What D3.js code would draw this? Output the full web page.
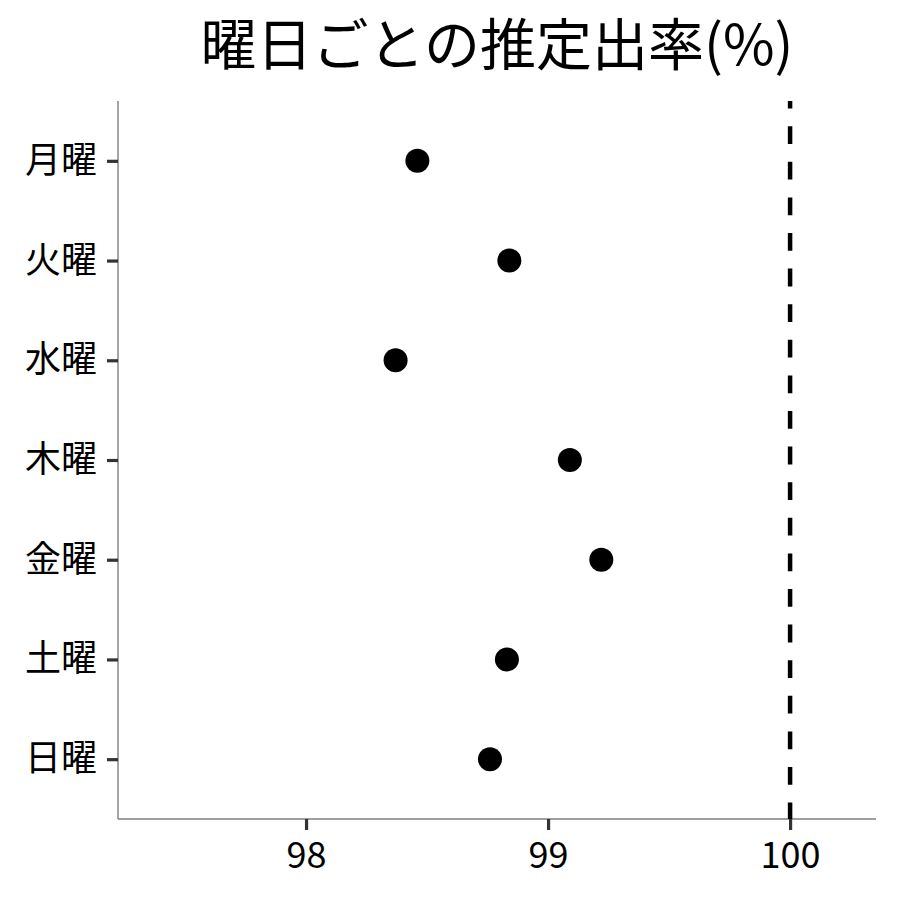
<!DOCTYPE html>
<html><head><meta charset="utf-8">
<script src="https://cdn.jsdelivr.net/npm/d3@7"></script>
<style>body{margin:0;background:#fff}</style>
</head><body>
<script>
const days = ["月曜","火曜","水曜","木曜","金曜","土曜","日曜"];
const rates = [98.46, 98.84, 98.37, 99.09, 99.22, 98.83, 98.76];
const xTicks = [98, 99, 100];
const refValue = 100;
const titleText = "曜日ごとの推定出率(%)";

const W = 900, H = 900;
const m = {left:118, right:24, top:101, bottom:81};
const font = "'Noto Sans CJK JP','Noto Sans',sans-serif";
const svg = d3.select("body").append("svg").attr("width",W).attr("height",H);

const x = d3.scaleLinear().domain([97.223, 100.355]).range([m.left, W-m.right]);
const y = d3.scalePoint().domain(days).range([m.top, H-m.bottom]).padding(0.6);

svg.append("text").attr("x",(m.left+W-m.right)/2).attr("y",65)
  .attr("text-anchor","middle").attr("font-family",font).attr("font-size",56)
  .attr("fill","#000").text(titleText);

// y axis
const ya = svg.append("g").attr("transform",`translate(${m.left},0)`)
  .call(d3.axisLeft(y).tickSize(11).tickPadding(10));
ya.select(".domain").attr("stroke","#7f7f7f").attr("stroke-width",1.4).attr("d",`M0,${m.top}V${H-m.bottom}`);
ya.selectAll(".tick line").attr("stroke","#333").attr("stroke-width",3.2);
ya.selectAll(".tick text").attr("font-family",font).attr("font-size",36).attr("fill","#000");

// x axis
const xa = svg.append("g").attr("transform",`translate(0,${H-m.bottom})`)
  .call(d3.axisBottom(x).tickValues(xTicks).tickSize(11).tickPadding(12).tickFormat(d3.format("d")));
xa.select(".domain").attr("stroke","#7f7f7f").attr("stroke-width",1.4).attr("d",`M${m.left},0H${W-m.right}`);
xa.selectAll(".tick line").attr("stroke","#333").attr("stroke-width",3.2);
xa.selectAll(".tick text").attr("font-family",font).attr("font-size",36).attr("fill","#000");

// reference line
svg.append("line").attr("x1",x(refValue)).attr("x2",x(refValue))
  .attr("y1",m.top).attr("y2",H-m.bottom)
  .attr("stroke","#000").attr("stroke-width",4.5)
  .attr("stroke-dasharray","17.8,17.8").attr("stroke-dashoffset",10.4);

// points
svg.append("g").selectAll("circle").data(days).join("circle")
  .attr("cx",(d,i)=>x(rates[i])).attr("cy",d=>y(d)).attr("r",12).attr("fill","#000");
</script>
</body></html>
